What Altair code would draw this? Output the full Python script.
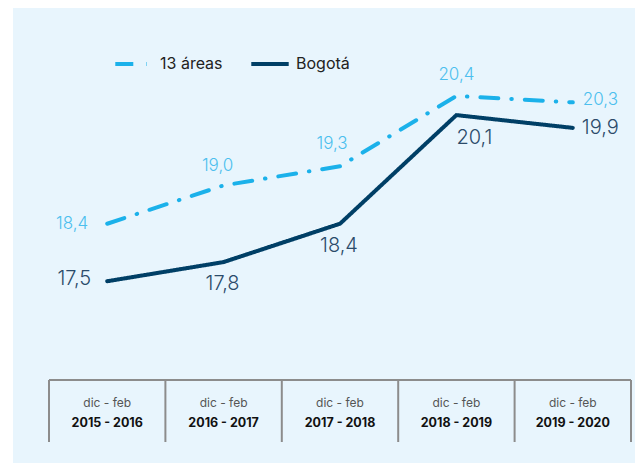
import altair as alt
import pandas as pd

periods = ["2015 - 2016", "2016 - 2017", "2017 - 2018", "2018 - 2019", "2019 - 2020"]
months = "dic - feb"
series = ["13 áreas", "Bogotá"]
areas13 = [18.4, 19.0, 19.3, 20.4, 20.3]
bogota = [17.5, 17.8, 18.4, 20.1, 19.9]

rows = []
for i, p in enumerate(periods):
    rows.append({"idx": i, "period": p, "serie": series[0], "v": areas13[i]})
    rows.append({"idx": i, "period": p, "serie": series[1], "v": bogota[i]})
df = pd.DataFrame(rows)

tab = pd.DataFrame({"idx": list(range(len(periods))), "period": periods, "months": [months] * len(periods)})
bounds = pd.DataFrame({"b": [i - 0.5 for i in range(len(periods) + 1)]})
top = pd.DataFrame({"b0": [-0.5], "b1": [len(periods) - 0.5]})

LIGHT = "#1BB1EA"
DARK = "#003F66"
LIGHT_TXT = "#4CBFEE"
DARK_TXT = "#2B4B6A"
FONT = "Inter"

xs = alt.Scale(domain=[-0.5, 4.5], range=[36, 618])
ys = alt.Scale(domain=[17, 21], range=[305.2, 49.6])

X = alt.X("idx:Q", scale=xs, axis=None)
Y = alt.Y("v:Q", scale=ys, axis=None)

leg = alt.Legend(title=None, orient="none", legendX=100, legendY=35, direction="horizontal",
                 symbolType="stroke", symbolSize=1400, symbolStrokeWidth=4,
                 labelFont=FONT, labelFontSize=16, labelColor="#222222",
                 columnPadding=20, labelOffset=5)

lines = alt.Chart(df).mark_line(strokeWidth=4, strokeCap="round").encode(
    x=X, y=Y,
    color=alt.Color("serie:N", scale=alt.Scale(domain=series, range=[LIGHT, DARK]), legend=leg),
    strokeDash=alt.StrokeDash("serie:N", scale=alt.Scale(domain=series, range=[[18, 13, 0.5, 13], [1, 0]]), legend=leg),
)


def labels(serie, idxs, align, dx, dy, size, color):
    return alt.Chart(df).transform_filter(
        f"datum.serie == '{serie}' && indexof({list(idxs)}, datum.idx) >= 0"
    ).transform_calculate(
        lab="replace(format(datum.v, '.1f'), '.', ',')"
    ).mark_text(align=align, baseline="middle", dx=dx, dy=dy, fontSize=size, font=FONT,
                fontWeight=300, color=color).encode(x=X, y=Y, text="lab:N")


lab_layers = [
    labels(series[1], [0], "right", -16, -2, 20, DARK_TXT),
    labels(series[1], [1, 2], "center", -1, 22, 20, DARK_TXT),
    labels(series[1], [3], "center", 18, 23, 20, DARK_TXT),
    labels(series[1], [4], "left", 9, 0, 20, DARK_TXT),
    labels(series[0], [0], "right", -19, 0, 17, LIGHT_TXT),
    labels(series[0], [1], "center", -6, -19, 17, LIGHT_TXT),
    labels(series[0], [2], "center", -8, -22, 17, LIGHT_TXT),
    labels(series[0], [3], "center", 0, -21, 17, LIGHT_TXT),
    labels(series[0], [4], "left", 10, -2, 17, LIGHT_TXT),
]

vrules = alt.Chart(bounds).mark_rule(color="#8C8C8C", strokeWidth=2).encode(
    x=alt.X("b:Q", scale=xs, axis=None), y=alt.value(372), y2=alt.value(434))
hrule = alt.Chart(top).mark_rule(color="#8C8C8C", strokeWidth=2).encode(
    x=alt.X("b0:Q", scale=xs, axis=None), x2="b1:Q", y=alt.value(372))
mtext = alt.Chart(tab).mark_text(fontSize=12, font=FONT, color="#555555", baseline="middle").encode(
    x=alt.X("idx:Q", scale=xs, axis=None), y=alt.value(395), text="months:N")
ytext = alt.Chart(tab).mark_text(fontSize=12.5, font=FONT, fontWeight="bold", color="#111111", baseline="middle").encode(
    x=alt.X("idx:Q", scale=xs, axis=None), y=alt.value(415), text="period:N")

chart = alt.layer(vrules, hrule, mtext, ytext, lines, *lab_layers).properties(
    width=622, height=455,
    padding={"left": 5, "top": 0, "right": 0, "bottom": 0},
    autosize=alt.AutoSizeParams(type="none"),
    background="white",
).configure_view(fill="#E8F5FD", stroke=None)

chart.save("out.html", embed_options={"renderer": "svg", "actions": False})
